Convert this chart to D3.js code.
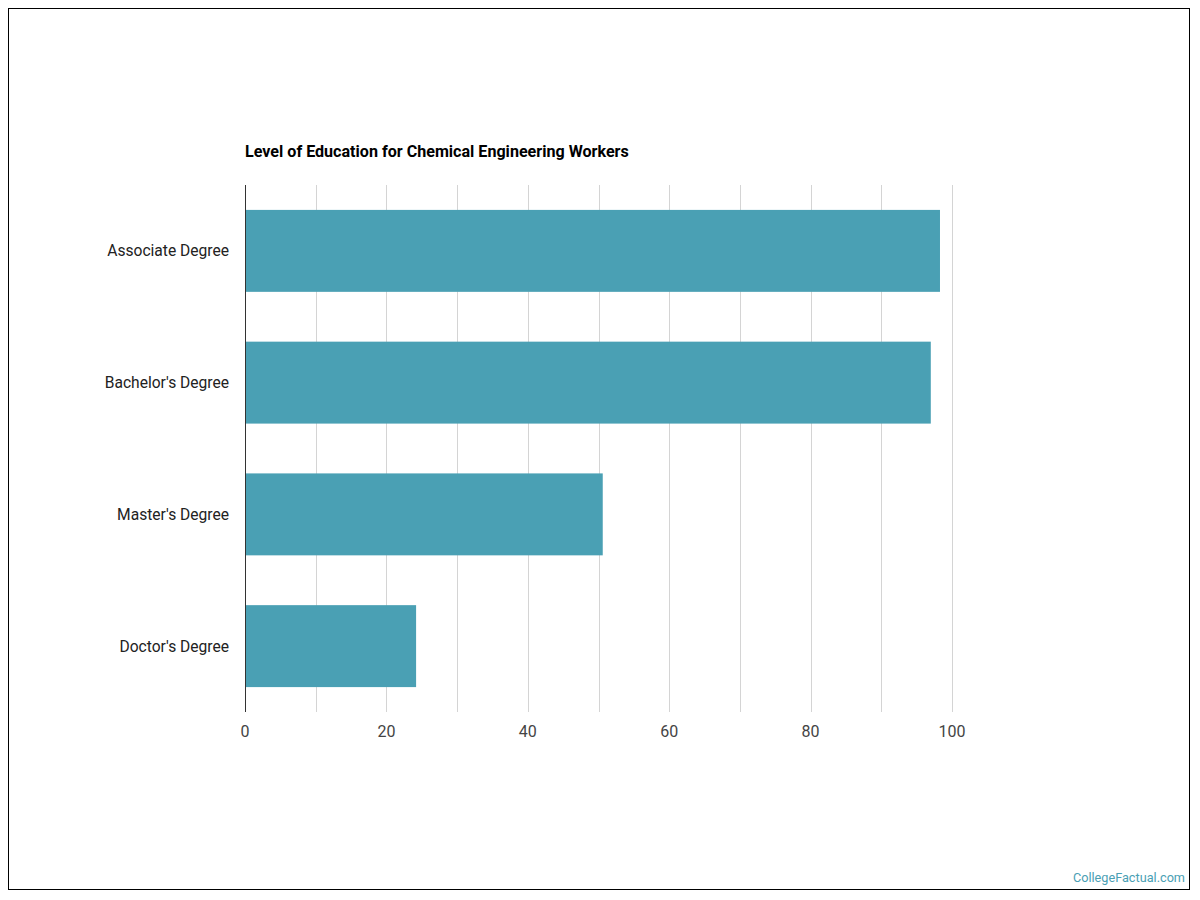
<!DOCTYPE html>
<html>
<head>
<meta charset="utf-8">
<script src="https://cdn.jsdelivr.net/npm/d3@7"></script>
<style>
  body { margin: 0; background: #fff; }
  svg { display: block; font-family: Roboto, "Noto Sans", sans-serif; }
  .grid-line { stroke: #d4d4d4; stroke-width: 1; }
</style>
</head>
<body>
<div id="chart"></div>
<script>
const degrees = ["Associate Degree", "Bachelor's Degree", "Master's Degree", "Doctor's Degree"];
const workers = [98.3, 97.0, 50.6, 24.2];
const xTicks = [0, 20, 40, 60, 80, 100];

const W = 1200, H = 900;
const margin = { top: 185, right: 248, bottom: 188, left: 245 },
  width = W - margin.left - margin.right,
  height = H - margin.top - margin.bottom;

const svg = d3.select("#chart")
  .append("svg")
  .attr("width", W)
  .attr("height", H);

// outer frame
svg.append("rect")
  .attr("x", 8.5).attr("y", 8.5)
  .attr("width", 1181).attr("height", 881)
  .attr("fill", "none")
  .attr("stroke", "#000")
  .attr("stroke-width", 1);

const g = svg.append("g")
  .attr("transform", `translate(${margin.left},${margin.top})`);

const x = d3.scaleLinear().domain([0, 100]).range([0, width]);
const y = d3.scaleBand().domain(degrees).range([0, height])
  .paddingInner(0.378).paddingOuter(0.189);

// grid lines every 10
g.append("g")
  .selectAll("line")
  .data(d3.range(10, 101, 10))
  .join("line")
  .attr("class", "grid-line")
  .attr("x1", d => Math.round(x(d)) + 0.5)
  .attr("x2", d => Math.round(x(d)) + 0.5)
  .attr("y1", 0)
  .attr("y2", height);

// bars
g.append("g")
  .selectAll("rect")
  .data(degrees.map((d, i) => ({ name: d, value: workers[i] })))
  .join("rect")
  .attr("x", 0)
  .attr("y", d => y(d.name))
  .attr("width", d => x(d.value))
  .attr("height", y.bandwidth())
  .attr("fill", "#4aa0b4");

// y axis line
g.append("line")
  .attr("x1", 0.5).attr("x2", 0.5)
  .attr("y1", 0).attr("y2", height)
  .attr("stroke", "#333");

// category labels
g.append("g")
  .selectAll("text")
  .data(degrees)
  .join("text")
  .attr("x", -16)
  .attr("y", d => y(d) + y.bandwidth() / 2)
  .attr("dy", "0.35em")
  .attr("text-anchor", "end")
  .style("font-size", "15.6px")
  .style("fill", "#222")
  .text(d => d);

// x tick labels
g.append("g")
  .selectAll("text")
  .data(xTicks)
  .join("text")
  .attr("x", d => x(d))
  .attr("y", height + 19)
  .attr("dy", "0.35em")
  .attr("text-anchor", "middle")
  .style("font-size", "16px")
  .style("fill", "#444")
  .text(d => d);

// title
svg.append("text")
  .attr("x", margin.left)
  .attr("y", 157)
  .style("font-size", "16.1px")
  .style("font-weight", "700")
  .style("fill", "#000")
  .text("Level of Education for Chemical Engineering Workers");

// watermark
svg.append("text")
  .attr("x", 1185)
  .attr("y", 882)
  .attr("text-anchor", "end")
  .style("font-size", "12.7px")
  .style("fill", "#4aa0b4")
  .text("CollegeFactual.com");
</script>
</body>
</html>
